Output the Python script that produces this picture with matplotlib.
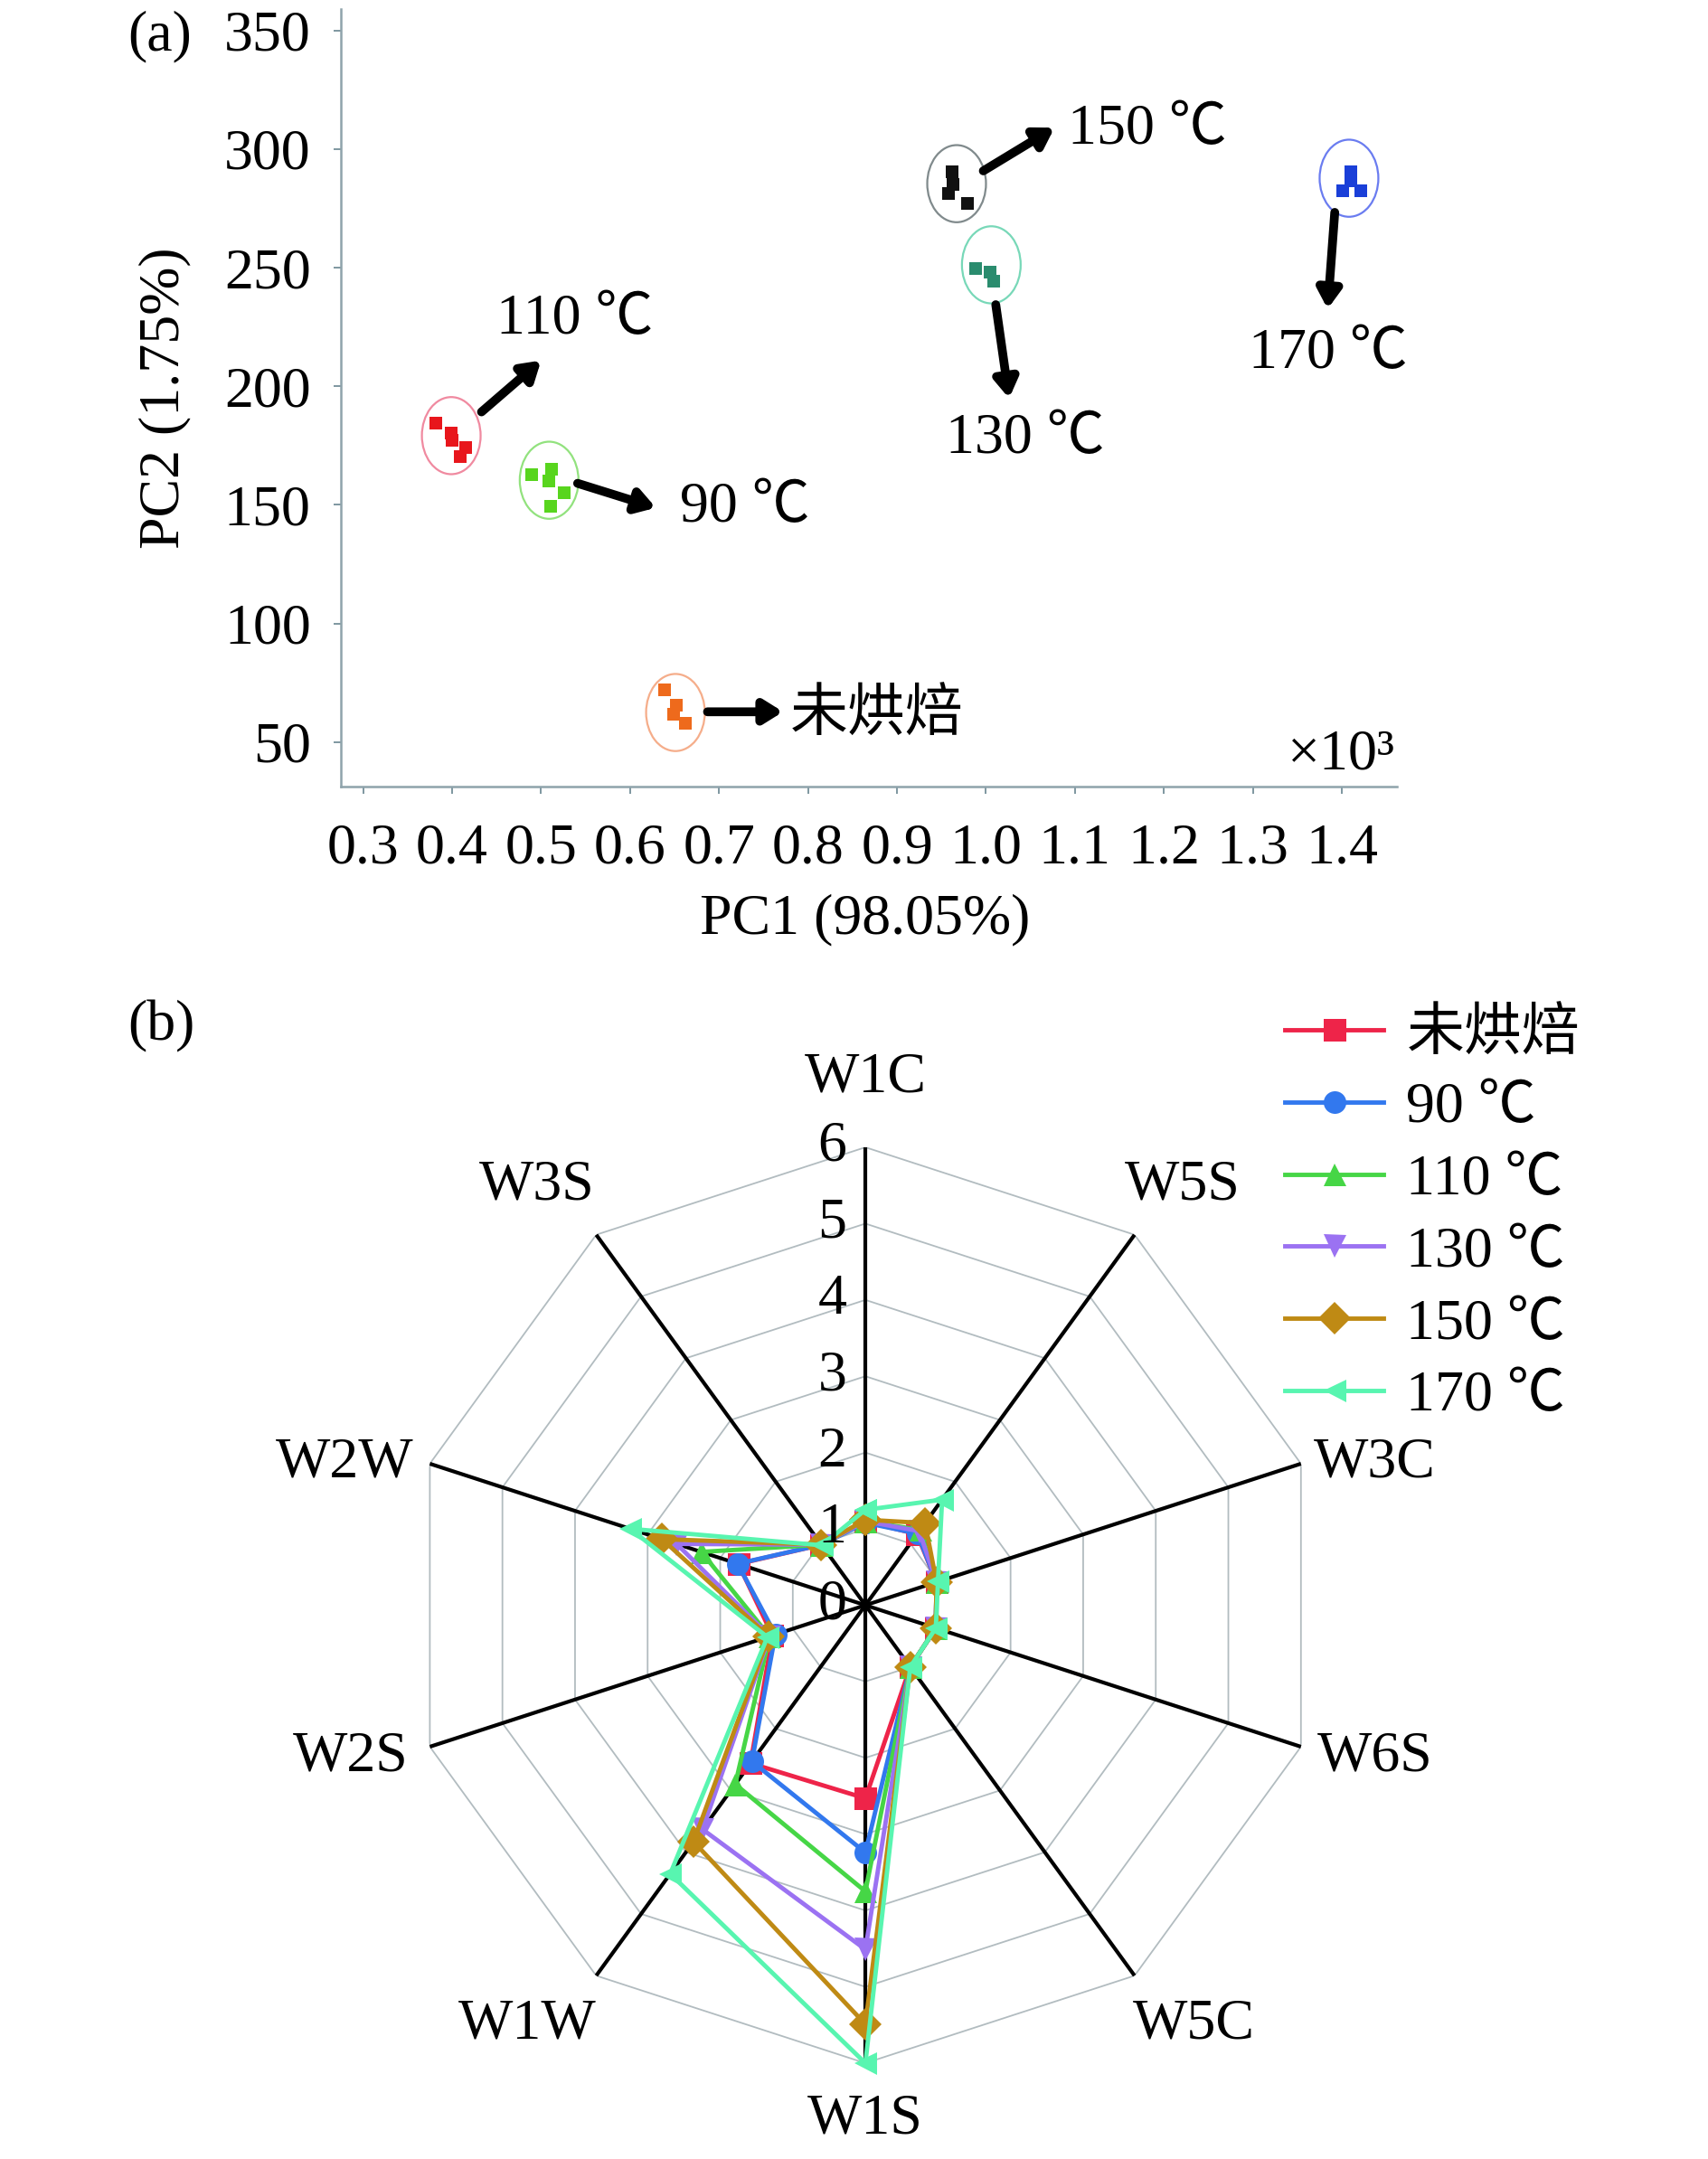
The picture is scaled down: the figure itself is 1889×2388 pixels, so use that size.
import numpy as np
import matplotlib
matplotlib.use("Agg")
import matplotlib.pyplot as plt
from matplotlib.patches import Ellipse

plt.rcParams['font.family'] = ['Liberation Serif', 'Noto Sans CJK SC']
FS = 46

# ---------- (a) PCA scores, PC1 in units of 10^3 ----------
groups = ['未烘焙', '90 ℃', '110 ℃', '130 ℃', '150 ℃', '170 ℃']

raw_x = [0.639, 0.652, 0.649, 0.662]
raw_y = [72.0, 65.6, 61.8, 58.0]
t90_x = [0.489, 0.512, 0.509, 0.526, 0.511]
t90_y = [162.9, 165.2, 160.1, 155.3, 149.3]
t110_x = [0.382, 0.399, 0.400, 0.415, 0.409]
t110_y = [184.5, 180.4, 177.3, 174.1, 170.3]
t130_x = [0.988, 1.005, 1.009]
t130_y = [249.7, 248.3, 244.2]
t150_x = [0.962, 0.963, 0.958, 0.979]
t150_y = [290.6, 285.2, 281.1, 277.0]
t170_x = [1.410, 1.401, 1.421, 1.410]
t170_y = [290.6, 282.5, 282.5, 286.6]

pca_x = [raw_x, t90_x, t110_x, t130_x, t150_x, t170_x]
pca_y = [raw_y, t90_y, t110_y, t130_y, t150_y, t170_y]
pt_colors = ['#ee6a1c', '#58d51e', '#e8161c', '#2a8c6e', '#111111', '#1a3fd8']
ring_colors = ['#f5ad8a', '#92e27e', '#f08aa0', '#78d8b8', '#808a8c', '#6a7cf0']
ring_cx = [0.651, 0.509, 0.399, 1.006, 0.967, 1.408]
ring_cy = [62.5, 160.4, 179.2, 251.2, 285.4, 287.7]

# arrow tail / head and label anchor
arr_tail = [(0.687, 62.8), (0.541, 159.1), (0.433, 189.2), (1.011, 234.4), (0.997, 290.8), (1.392, 273.3)]
arr_head = [(0.772, 62.8), (0.629, 148.8), (0.500, 210.9), (1.026, 194.9), (1.077, 309.0), (1.384, 232.6)]
lab_pos = [(0.780, 60.6), (0.656, 148.6), (0.538, 228.0), (1.0445, 177.7), (1.0925, 307.8), (1.3843, 213.6)]
lab_ha = ['left', 'left', 'center', 'center', 'left', 'center']

# ---------- (b) radar of sensor responses ----------
sensors = ['W1C', 'W5S', 'W3C', 'W6S', 'W5C', 'W1S', 'W1W', 'W2S', 'W2W', 'W3S']
v_raw = [1.10, 1.15, 0.98, 0.97, 1.00, 2.53, 2.56, 1.28, 1.75, 0.98]
v_90 = [1.08, 1.16, 0.98, 0.97, 1.00, 3.24, 2.53, 1.24, 1.76, 0.98]
v_110 = [1.10, 1.22, 0.98, 0.97, 1.00, 3.75, 2.90, 1.32, 2.26, 0.98]
v_130 = [1.10, 1.20, 0.98, 0.97, 1.00, 4.51, 3.63, 1.32, 2.60, 0.98]
v_150 = [1.12, 1.33, 0.98, 0.97, 1.00, 5.49, 3.83, 1.33, 2.80, 0.98]
v_170 = [1.25, 1.71, 1.00, 0.97, 1.00, 6.00, 4.35, 1.35, 3.24, 0.97]
radar_vals = [v_raw, v_90, v_110, v_130, v_150, v_170]
radar_colors = ['#ee2449', '#3278ee', '#46d646', '#9b72f2', '#bf8a14', '#58f5b0']
radar_markers = ['s', 'o', '^', 'v', 'D', '<']
r_ticks = [0, 1, 2, 3, 4, 5, 6]
# label offsets (points) from the outer end of each spoke
name_off = [(0, 55), (38, 39), (59, 0), (59, -8), (47, -39),
            (0, -45), (-55, -39), (-63, -8), (-68, 0), (-47, 39)]

fig = plt.figure(figsize=(18.9, 23.88), dpi=100)

# ---- panel a ----
ax = fig.add_axes([0.1995, 0.6357, 0.618, 0.3601])
for i in range(len(groups)):
    ax.add_patch(Ellipse((ring_cx[i], ring_cy[i]), 0.066, 32.5, fill=False,
                         edgecolor=ring_colors[i], lw=1.6, zorder=2))
    ax.plot(pca_x[i], pca_y[i], 's', color=pt_colors[i], ms=10, mew=0, zorder=3)
    ax.annotate('', xy=arr_head[i], xytext=arr_tail[i],
                arrowprops=dict(arrowstyle='-|>,head_width=0.25,head_length=0.4',
                                lw=7, color='black', mutation_scale=30,
                                shrinkA=0, shrinkB=0))
    ax.text(lab_pos[i][0], lab_pos[i][1], groups[i], fontsize=FS,
            ha=lab_ha[i], va='center')

ax.set_xlim(0.275, 1.462)
ax.set_ylim(31.3, 359)
ax.set_xticks(np.arange(0.3, 1.41, 0.1))
ax.set_xticklabels(['%.1f' % t for t in np.arange(0.3, 1.41, 0.1)])
ax.set_yticks(np.arange(50, 351, 50))
for s in ['top', 'right']:
    ax.spines[s].set_visible(False)
for s in ['left', 'bottom']:
    ax.spines[s].set_color('#8ea3ab')
    ax.spines[s].set_linewidth(1.8)
ax.tick_params(direction='out', length=6, width=1.4, color='#7e97a0',
               labelsize=FS, pad=18)
ax.tick_params(axis='x', pad=23)
ax.set_xlabel('PC1 (98.05%)', fontsize=FS)
ax.set_ylabel('PC2 (1.75%)', fontsize=FS)
ax.xaxis.set_label_coords(0.496, -0.138)
ax.yaxis.set_label_coords(-0.142, 0.5)
ax.text(0.998, 0.023, '×10³', transform=ax.transAxes, fontsize=FS,
        ha='right', va='baseline')

fig.text(0.0745, 0.983, '(a)', fontsize=FS, va='center', ha='left')
fig.text(0.0745, 0.5247, '(b)', fontsize=FS, va='center', ha='left')

# ---- panel b ----
angles = np.arange(len(sensors)) * 2 * np.pi / len(sensors)
closed = np.append(angles, angles[0])

pax = fig.add_axes([0.2384, 0.0444, 0.536, 0.4242], projection='polar')
pax.set_theta_zero_location('N')
pax.set_theta_direction(-1)
pax.set_ylim(0, 6)
pax.axis('off')

for r in r_ticks[1:]:
    pax.plot(closed, [r] * len(closed), color='#b2bcc0', lw=1.3, zorder=1)
for a in angles:
    pax.plot([a, a], [0, 6], color='black', lw=3, zorder=2)
for r in r_ticks:
    pax.annotate(str(r), xy=(0, r), xytext=(-15, 0), textcoords='offset points',
                 fontsize=FS, ha='right', va='center', zorder=5)
for a, name, off in zip(angles, sensors, name_off):
    pax.annotate(name, xy=(a, 6), xytext=off, textcoords='offset points',
                 fontsize=FS, ha='center', va='center')

for vals, c, m, name in zip(radar_vals, radar_colors, radar_markers, groups):
    pax.plot(closed, np.append(vals, vals[0]), color=c, lw=3.5, marker=m,
             ms=18, mew=0, label=name, zorder=3, clip_on=False)

fig.legend(loc='upper left', bbox_to_anchor=(0.752, 0.5325), frameon=False,
           fontsize=FS, handlelength=1.7, handletextpad=0.4,
           labelspacing=0.33, borderpad=0, borderaxespad=0)

fig.savefig('out.png', dpi=100)
